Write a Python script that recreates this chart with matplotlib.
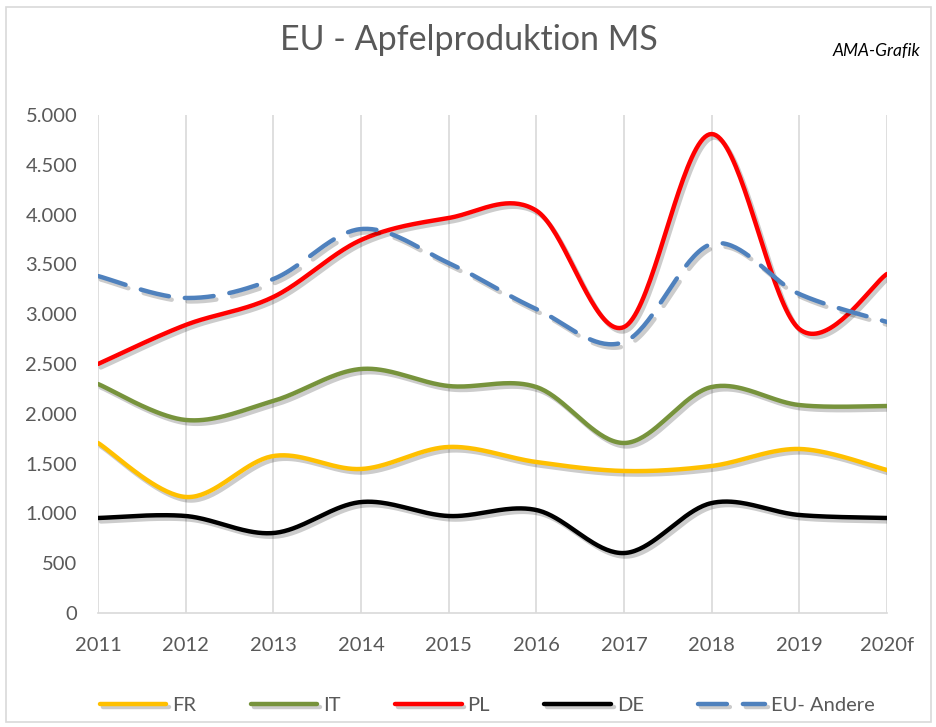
import numpy as np
import matplotlib
matplotlib.use("Agg")
import matplotlib.pyplot as plt
import matplotlib.patheffects as pe
from matplotlib.patches import Rectangle

years = ["2011", "2012", "2013", "2014", "2015", "2016", "2017", "2018", "2019", "2020f"]
fr = [1707, 1165, 1576, 1446, 1667, 1516, 1426, 1476, 1647, 1436]
it = [2299, 1938, 2129, 2450, 2279, 2269, 1707, 2269, 2088, 2078]
pl = [2500, 2892, 3173, 3745, 3966, 4040, 2871, 4809, 2851, 3404]
de = [954, 974, 803, 1114, 974, 1034, 602, 1104, 984, 954]
eu_andere = [3383, 3163, 3353, 3855, 3514, 3052, 2721, 3705, 3203, 2922]

series = [("FR", fr, "#FFC000", "-"),
          ("IT", it, "#77933C", "-"),
          ("PL", pl, "#FF0000", "-"),
          ("DE", de, "#000000", "-"),
          ("EU- Andere", eu_andere, "#4F81BD", (0, (6.5, 3.6)))]

plt.rcParams["font.family"] = ["Lato", "DejaVu Sans"]
txt = "#595959"


def smooth(y, n=40):
    x = np.arange(len(y), dtype=float)
    y = np.asarray(y, dtype=float)
    xs, ys = [], []
    for i in range(len(y) - 1):
        p0 = np.array([x[max(i - 1, 0)], y[max(i - 1, 0)]])
        p1 = np.array([x[i], y[i]])
        p2 = np.array([x[i + 1], y[i + 1]])
        p3 = np.array([x[min(i + 2, len(y) - 1)], y[min(i + 2, len(y) - 1)]])
        c1 = p1 + (p2 - p0) / 6.0
        c2 = p2 - (p3 - p1) / 6.0
        t = np.linspace(0, 1, n, endpoint=(i == len(y) - 2))[:, None]
        pts = ((1 - t) ** 3) * p1 + 3 * ((1 - t) ** 2) * t * c1 + 3 * (1 - t) * t ** 2 * c2 + t ** 3 * p2
        xs.append(pts[:, 0]); ys.append(pts[:, 1])
    return np.concatenate(xs), np.concatenate(ys)


fig = plt.figure(figsize=(9.37, 7.27), dpi=100)
fig.patches.append(Rectangle((0.006, 0.007), 0.988, 0.983, transform=fig.transFigure,
                             fill=False, edgecolor="#D9D9D9", linewidth=1.2))
ax = fig.add_axes([0.1046, 0.1568, 0.842, 0.685])

for name, vals, col, ls in series:
    xs, ys = smooth(vals)
    ax.plot(xs, ys, color=col, linewidth=3.2, linestyle=ls, label=name,
            solid_capstyle="round", dash_capstyle="round",
            path_effects=[pe.SimpleLineShadow(offset=(2, -2.5), shadow_color="black", alpha=0.2),
                          pe.Normal()])

ax.set_xlim(0, len(years) - 1)
ax.set_ylim(0, 5000)
ax.set_xticks(range(len(years)))
ax.set_xticklabels(years)
yt = np.arange(0, 5001, 500)
ax.set_yticks(yt)
ax.set_yticklabels([f"{v:,}".replace(",", ".") for v in yt])
ax.tick_params(axis="both", length=0, labelsize=14.5, colors=txt)
ax.tick_params(axis="y", pad=15)
ax.tick_params(axis="x", pad=17)
ax.grid(axis="x", color="#D9D9D9", linewidth=1.2)
ax.set_axisbelow(True)
for s in ["top", "right", "left"]:
    ax.spines[s].set_visible(False)
ax.spines["bottom"].set_color("#D9D9D9")
ax.spines["bottom"].set_linewidth(1.2)

fig.text(0.5, 0.945, "EU - Apfelproduktion MS", ha="center", va="center",
         fontsize=24.5, color=txt)
fig.text(0.982, 0.93, "AMA-Grafik", ha="right", va="center", fontsize=12.5,
         style="italic", color="black")

fig.legend(loc="center", bbox_to_anchor=(0.52, 0.03), ncol=5, frameon=False,
           fontsize=14.5, handlelength=3.3, columnspacing=2.7, labelcolor=txt,
           handletextpad=0.3)

fig.savefig("out.png", dpi=100)
